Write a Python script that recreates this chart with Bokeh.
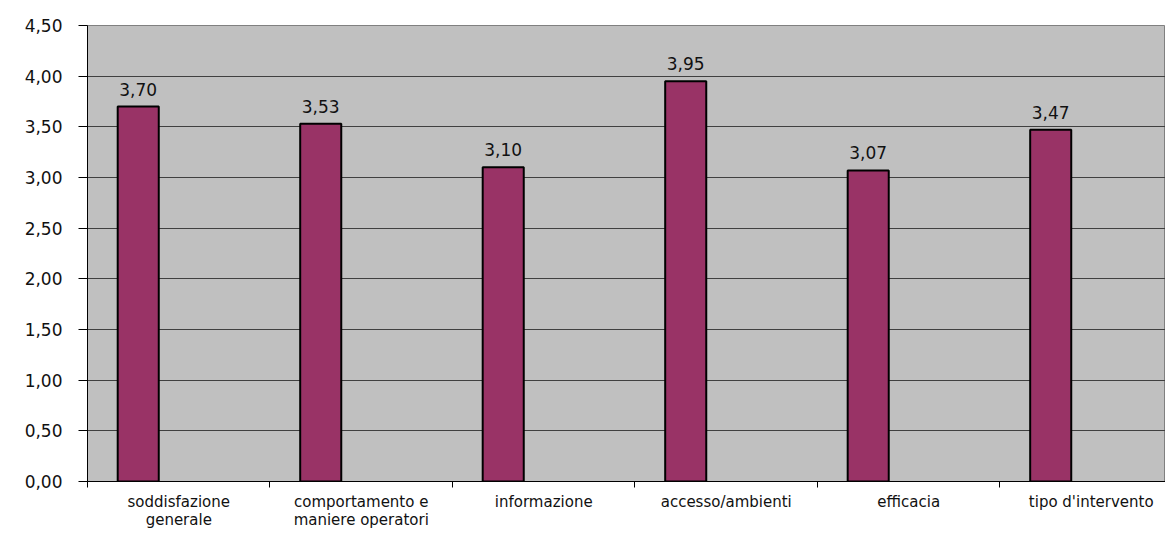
from bokeh.plotting import figure
from bokeh.models import Range1d, FixedTicker
from bokeh.core.properties import value
from bokeh.embed import file_html
from bokeh.resources import INLINE

categories = ["soddisfazione\ngenerale", "comportamento e\nmaniere operatori", "informazione",
              "accesso/ambienti", "efficacia", "tipo d'intervento"]
values = [3.70, 3.53, 3.10, 3.95, 3.07, 3.47]
value_labels = ["3,70", "3,53", "3,10", "3,95", "3,07", "3,47"]
y_ticks = [0.0, 0.5, 1.0, 1.5, 2.0, 2.5, 3.0, 3.5, 4.0, 4.5]
y_tick_labels = ["0,00", "0,50", "1,00", "1,50", "2,00", "2,50", "3,00", "3,50", "4,00", "4,50"]

n = len(categories)
bar_offset = 0.278
bar_x = [i + bar_offset for i in range(n)]
centers = [i + 0.5 for i in range(n)]

p = figure(width=1165, height=533, output_backend="svg", toolbar_location=None,
           x_range=Range1d(0, 5.907), y_range=Range1d(0, 4.5),
           min_border_left=87, min_border_right=0, min_border_top=25, min_border_bottom=52,
           background_fill_color="#C0C0C0", border_fill_color="white")
p.outline_line_color = "#808080"
p.outline_line_width = 1

p.vbar(x=bar_x, top=values, width=0.225, bottom=0,
       fill_color="#993366", line_color="black", line_width=2)

p.text(x=bar_x, y=values, text=value_labels, text_align="center", text_baseline="bottom",
       y_offset=-11, text_font=value("DejaVu Sans"), text_font_size="17px", text_color="#111111")

# y axis
p.yaxis.ticker = FixedTicker(ticks=y_ticks)
p.yaxis.major_label_overrides = {t: l for t, l in zip(y_ticks, y_tick_labels)}
p.yaxis.major_label_text_font = "DejaVu Sans"
p.yaxis.major_label_text_font_size = "17px"
p.yaxis.major_label_text_color = "#111111"
p.yaxis.major_tick_out = 9
p.yaxis.major_tick_in = 0
p.yaxis.minor_tick_line_color = None
p.yaxis.major_label_standoff = 16
p.yaxis.axis_line_color = "black"
p.yaxis.axis_line_width = 1

# x axis
p.xaxis.ticker = FixedTicker(ticks=centers, minor_ticks=list(range(n + 1)))
p.xaxis.major_label_overrides = {c: l for c, l in zip(centers, categories)}
p.xaxis.major_label_text_font = "DejaVu Sans"
p.xaxis.major_label_text_font_size = "15px"
p.xaxis.major_label_text_color = "#111111"
p.xaxis.major_label_text_line_height = 1.05
p.xaxis.major_tick_out = 0
p.xaxis.major_tick_in = 0
p.xaxis.minor_tick_out = 6
p.xaxis.minor_tick_in = 0
p.xaxis.minor_tick_line_color = "black"
p.xaxis.major_label_standoff = 5
p.xaxis.axis_line_color = "black"

p.xgrid.grid_line_color = None
p.ygrid.ticker = FixedTicker(ticks=y_ticks[1:-1])
p.ygrid.grid_line_color = "#404040"
p.ygrid.grid_line_width = 1

open("out.html", "w").write(file_html(p, INLINE))
